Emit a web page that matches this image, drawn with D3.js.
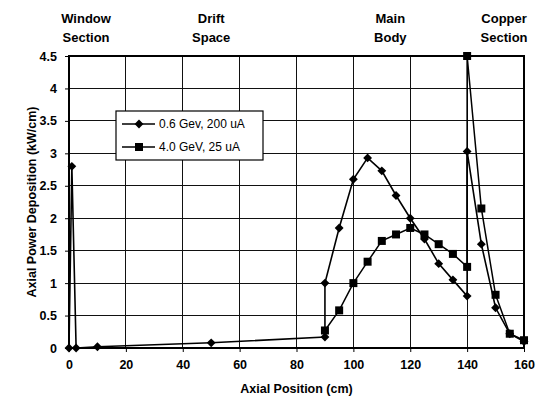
<!DOCTYPE html>
<html>
<head>
<meta charset="utf-8">
<script src="https://cdn.jsdelivr.net/npm/d3@7"></script>
<style>
  html, body { margin: 0; padding: 0; background: #fff; }
  svg { display: block; font-family: "Liberation Sans", Arial, sans-serif; }
</style>
</head>
<body>
<svg id="chart" width="538" height="402"></svg>
<script>
// ---- data ----
const series1Name = "0.6 Gev, 200 uA";
const series1X = [0, 1, 2.5, 10, 50, 90, 90, 95, 100, 105, 110, 115, 120, 125, 130, 135, 140, 140, 145, 150, 155, 160];
const series1Y = [0, 2.8, 0, 0.02, 0.08, 0.17, 1.0, 1.85, 2.6, 2.93, 2.73, 2.35, 2.0, 1.68, 1.3, 1.05, 0.8, 3.03, 1.6, 0.62, 0.22, 0.1];

const series2Name = "4.0 GeV, 25 uA";
const series2X = [90, 95, 100, 105, 110, 115, 120, 125, 130, 135, 140, 140, 145, 150, 155, 160];
const series2Y = [0.27, 0.58, 1.0, 1.33, 1.65, 1.75, 1.85, 1.75, 1.6, 1.45, 1.25, 4.5, 2.15, 0.82, 0.22, 0.12];

const xTicks = [0, 20, 40, 60, 80, 100, 120, 140, 160];
const yTicks = [0, 0.5, 1, 1.5, 2, 2.5, 3, 3.5, 4, 4.5];
const yTickLabels = ["0", "0.5", "1", "1.5", "2", "2.5", "3", "3.5", "4", "4.5"];

const sectionLabels = [
  { lines: ["Window", "Section"], x: 6 },
  { lines: ["Drift", "Space"], x: 50 },
  { lines: ["Main", "Body"], x: 113 },
  { lines: ["Copper", "Section"], x: 153 }
];
const xTitle = "Axial Position  (cm)";
const yTitle = "Axial Power Deposition  (kW/cm)";

// ---- layout ----
const svg = d3.select("#chart");
const pL = 69, pR = 524, pT = 56, pB = 348;
const x = d3.scaleLinear().domain([0, 160]).range([pL, pR]);
const y = d3.scaleLinear().domain([0, 4.5]).range([pB, pT]);

// grid
const grid = svg.append("g").attr("stroke", "#111").attr("stroke-width", 1).attr("shape-rendering", "crispEdges");
grid.selectAll("line.v").data(xTicks).join("line")
  .attr("x1", d => x(d)).attr("x2", d => x(d)).attr("y1", pT).attr("y2", pB);
grid.selectAll("line.h").data(yTicks).join("line")
  .attr("y1", d => y(d)).attr("y2", d => y(d)).attr("x1", pL).attr("x2", pR);
svg.append("rect").attr("x", pL).attr("y", pT).attr("width", pR - pL).attr("height", pB - pT)
  .attr("fill", "none").attr("stroke", "#000").attr("stroke-width", 1.2).attr("shape-rendering", "crispEdges");

// axes
const xAxis = d3.axisBottom(x).tickValues(xTicks).tickSize(4).tickPadding(8).tickFormat(d3.format("d"));
const gx = svg.append("g").attr("transform", `translate(0,${pB})`).call(xAxis);
gx.select(".domain").remove();
gx.selectAll("text").attr("font-size", 12.5).attr("font-weight", "bold").attr("fill", "#000").attr("font-family", "Liberation Sans, Arial, sans-serif");
gx.selectAll("line").attr("stroke", "#000");

const yAxis = d3.axisLeft(y).tickValues(yTicks).tickSize(4).tickPadding(8).tickFormat((d, i) => yTickLabels[i]);
const gy = svg.append("g").attr("transform", `translate(${pL},0)`).call(yAxis);
gy.select(".domain").remove();
gy.selectAll("text").attr("font-size", 12.5).attr("font-weight", "bold").attr("fill", "#000").attr("font-family", "Liberation Sans, Arial, sans-serif");
gy.selectAll("line").attr("stroke", "#000");

// titles
svg.append("text").attr("x", (pL + pR) / 2).attr("y", 393).attr("text-anchor", "middle")
  .attr("font-size", 12.5).attr("font-weight", "bold").text(xTitle);
svg.append("text").attr("transform", `translate(32,${(pT + pB) / 2}) rotate(-90)`).attr("text-anchor", "middle")
  .attr("dy", "0.35em").attr("font-size", 12.5).attr("font-weight", "bold").text(yTitle);

// section labels
sectionLabels.forEach(s => {
  const t = svg.append("text").attr("x", x(s.x)).attr("text-anchor", "middle")
    .attr("font-size", 13).attr("font-weight", "bold");
  s.lines.forEach((ln, i) => t.append("tspan").attr("x", x(s.x)).attr("y", 23 + i * 19).text(ln));
});

// lines
const line = d3.line().x(d => x(d[0])).y(d => y(d[1]));
const s1 = series1X.map((v, i) => [v, series1Y[i]]);
const s2 = series2X.map((v, i) => [v, series2Y[i]]);

svg.append("path").datum(s2).attr("d", line).attr("fill", "none").attr("stroke", "#000").attr("stroke-width", 1.5);
svg.append("path").datum(s1).attr("d", line).attr("fill", "none").attr("stroke", "#000").attr("stroke-width", 1.6);

const diamond = d3.symbol().type(d3.symbolDiamond2).size(50);
const square = d3.symbol().type(d3.symbolSquare).size(64);

svg.append("g").selectAll("path").data(s2).join("path")
  .attr("transform", d => `translate(${x(d[0])},${y(d[1])})`).attr("d", square).attr("fill", "#000");
svg.append("g").selectAll("path").data(s1).join("path")
  .attr("transform", d => `translate(${x(d[0])},${y(d[1])})`).attr("d", diamond).attr("fill", "#000");

// legend
const lg = svg.append("g");
lg.append("rect").attr("x", 116).attr("y", 111).attr("width", 147).attr("height", 49)
  .attr("fill", "#fff").attr("stroke", "#000").attr("stroke-width", 1.2);
const legendItems = [{ name: series1Name, sym: diamond, yy: 124 }, { name: series2Name, sym: square, yy: 147 }];
legendItems.forEach(it => {
  lg.append("line").attr("x1", 122).attr("x2", 155).attr("y1", it.yy).attr("y2", it.yy).attr("stroke", "#000").attr("stroke-width", 1.5);
  lg.append("path").attr("transform", `translate(139,${it.yy})`).attr("d", it.sym).attr("fill", "#000");
  lg.append("text").attr("x", 159).attr("y", it.yy).attr("dy", "0.35em").attr("font-size", 12).text(it.name);
});
</script>
</body>
</html>
